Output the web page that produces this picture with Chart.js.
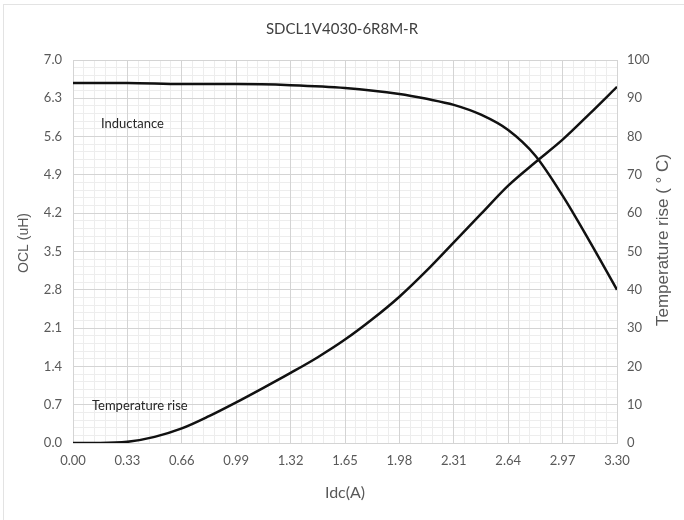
<!DOCTYPE html>
<html>
<head>
<meta charset="utf-8">
<script src="https://cdn.jsdelivr.net/npm/chart.js@4"></script>
<style>
  html, body { margin: 0; padding: 0; background: #ffffff; }
  #wrap { width: 684px; height: 520px; }
</style>
</head>
<body>
<div id="wrap"><canvas id="inductorChart" width="684" height="520"></canvas></div>
<script>
// Inductance curve (left axis, uH)
const oclIdc = [0, 0.33, 0.66, 0.99, 1.32, 1.65, 1.98, 2.145, 2.31, 2.475, 2.64, 2.805, 2.97, 3.135, 3.30];
const oclValues = [6.58, 6.58, 6.56, 6.56, 6.54, 6.49, 6.38, 6.29, 6.18, 6.0, 5.72, 5.25, 4.52, 3.68, 2.80];

// Temperature rise curve (right axis, deg C)
const tempIdc = [0, 0.165, 0.33, 0.495, 0.66, 0.825, 0.99, 1.155, 1.32, 1.485, 1.65, 1.815, 1.98, 2.145, 2.31, 2.475, 2.64, 2.805, 2.97, 3.135, 3.30];
const tempValues = [0, 0, 0.3, 1.6, 3.8, 7, 10.6, 14.4, 18.3, 22.4, 27.0, 32.3, 38.2, 45.0, 52.4, 59.8, 67.2, 73.3, 79.2, 86, 93];

// axis ranges / tick steps
const xRange = [0, 3.3];
const xStep = 0.33;
const oclRange = [0, 7];
const oclStep = 0.7;
const tempRange = [0, 100];
const tempStep = 10;

const chartTitle = "SDCL1V4030-6R8M-R";
const xTitle = "Idc(A)";
const leftTitle = "OCL (uH)";
const rightTitle = "Temperature rise ( ° C)";

const tickColor = "#595959";
const majorGrid = "#d4d4d4";
const minorGrid = "#ededed";

function toPoints(xs, ys) {
    return xs.map((x, i) => ({ x: x, y: ys[i] }));
}

// texte desenate peste grafic (etichete curbe, titlurile axelor verticale)
const extraText = {
    id: "extraText",
    beforeDraw(chart) {
        const ctx = chart.ctx;
        ctx.save();
        ctx.strokeStyle = "#e3e3e3";
        ctx.lineWidth = 1;
        ctx.strokeRect(3.5, 4.5, 700, 540);
        ctx.restore();
    },
    afterDraw(chart) {
        const ctx = chart.ctx;
        const x = chart.scales.x;
        const y = chart.scales.y;
        ctx.save();
        ctx.fillStyle = "#262626";
        ctx.font = "13px Lato";
        ctx.textAlign = "left";
        ctx.textBaseline = "middle";
        ctx.fillText("Inductance", x.getPixelForValue(0.17), y.getPixelForValue(5.83));
        ctx.fillText("Temperature rise", x.getPixelForValue(0.115), y.getPixelForValue(0.68));
        ctx.restore();

        // titlu axa stanga
        ctx.save();
        ctx.translate(24, 243);
        ctx.rotate(-Math.PI / 2);
        ctx.textAlign = "center";
        ctx.textBaseline = "middle";
        ctx.fillStyle = tickColor;
        ctx.font = "14px 'Liberation Sans'";
        ctx.fillText(leftTitle, 0, 0);
        ctx.restore();

        // titlu axa dreapta
        ctx.save();
        ctx.translate(663, 240);
        ctx.rotate(-Math.PI / 2);
        ctx.textAlign = "center";
        ctx.textBaseline = "middle";
        ctx.fillStyle = tickColor;
        ctx.font = "17px 'Liberation Sans'";
        ctx.fillText(rightTitle, 0, 0);
        ctx.restore();
    }
};

const ctx = document.getElementById("inductorChart").getContext("2d");
new Chart(ctx, {
    type: "line",
    data: {
        datasets: [{
            label: "Inductance",
            data: toPoints(oclIdc, oclValues),
            yAxisID: "y",
            borderColor: "#111111",
            borderWidth: 2.5,
            pointRadius: 0,
            cubicInterpolationMode: "monotone"
        }, {
            label: "Temperature rise",
            data: toPoints(tempIdc, tempValues),
            yAxisID: "y2",
            borderColor: "#111111",
            borderWidth: 2.5,
            pointRadius: 0,
            cubicInterpolationMode: "monotone"
        }]
    },
    options: {
        responsive: false,
        animation: false,
        layout: { padding: 0 },
        plugins: {
            legend: { display: false },
            tooltip: { enabled: false },
            title: {
                display: true,
                text: chartTitle,
                color: "#404040",
                font: { family: "Lato", size: 15, weight: "normal" },
                padding: { top: 20, bottom: 22 }
            }
        },
        scales: {
            xMinor: {
                type: "linear",
                position: "bottom",
                min: xRange[0], max: xRange[1],
                z: -1,
                ticks: { display: false, stepSize: xStep / 5 },
                grid: { color: minorGrid, drawTicks: false },
                border: { display: false },
                afterFit(scale) { scale.height = 0; }
            },
            yMinor: {
                type: "linear",
                position: "left",
                min: oclRange[0], max: oclRange[1],
                z: -1,
                ticks: { display: false, stepSize: oclStep / 5 },
                grid: { color: minorGrid, drawTicks: false },
                border: { display: false },
                afterFit(scale) { scale.width = 0; }
            },
            x: {
                type: "linear",
                position: "bottom",
                min: xRange[0], max: xRange[1],
                ticks: {
                    stepSize: xStep,
                    color: tickColor,
                    padding: 10,
                    font: { family: "Lato", size: 13 },
                    maxRotation: 0,
                    callback: (v) => v.toFixed(2)
                },
                grid: { color: majorGrid, drawTicks: false },
                border: { color: majorGrid },
                title: {
                    display: true,
                    text: xTitle,
                    color: tickColor,
                    font: { family: "Lato", size: 16 },
                    padding: { top: 0, bottom: 18 }
                },
                afterFit(scale) { scale.height = 77; }
            },
            y: {
                type: "linear",
                position: "left",
                min: oclRange[0], max: oclRange[1],
                ticks: {
                    stepSize: oclStep,
                    color: tickColor,
                    padding: 11,
                    font: { family: "Lato", size: 13 },
                    callback: (v) => v.toFixed(1)
                },
                grid: { color: majorGrid, drawTicks: false },
                border: { color: majorGrid },
                afterFit(scale) { scale.width = 73; }
            },
            y2: {
                type: "linear",
                position: "right",
                min: tempRange[0], max: tempRange[1],
                ticks: {
                    stepSize: tempStep,
                    color: tickColor,
                    padding: 10,
                    font: { family: "Lato", size: 13 }
                },
                grid: { drawOnChartArea: false, drawTicks: false },
                border: { color: majorGrid },
                afterFit(scale) { scale.width = 67; }
            }
        }
    },
    plugins: [extraText]
});
</script>
</body>
</html>
